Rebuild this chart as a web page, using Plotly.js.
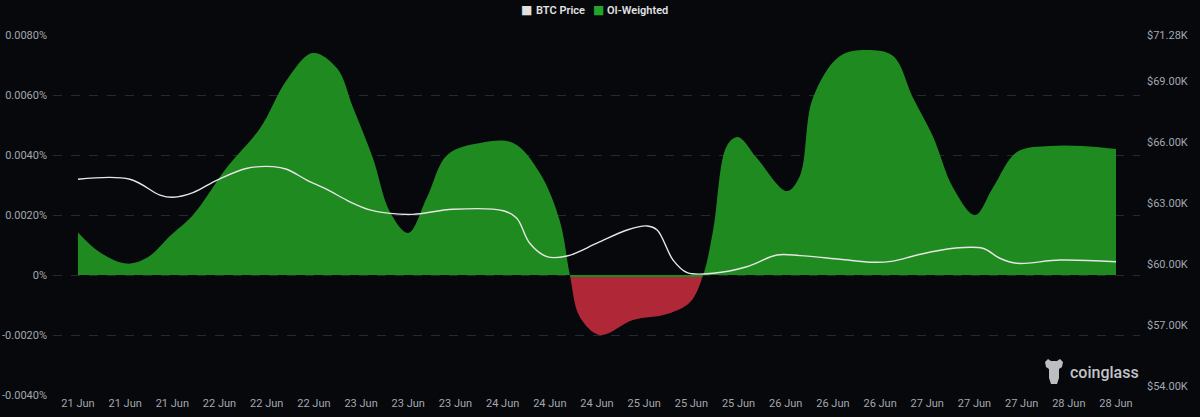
<!DOCTYPE html>
<html><head><meta charset="utf-8">
<script src="https://cdn.plot.ly/plotly-3.0.1.min.js"></script>
<style>html,body{margin:0;padding:0;background:#07080c;}#chart{width:1200px;height:417px;}</style>
</head><body><div id="chart"></div>
<script>
const fundingTimes = [
 '2024-06-21 00:00','2024-06-21 03:42','2024-06-21 08:18','2024-06-21 11:54','2024-06-21 15:36','2024-06-21 19:30',
 '2024-06-22 01:18','2024-06-22 06:54','2024-06-22 11:24','2024-06-22 15:48','2024-06-22 19:54','2024-06-22 22:36',
 '2024-06-23 02:00','2024-06-23 04:54','2024-06-23 08:00','2024-06-23 11:12','2024-06-23 14:36','2024-06-23 20:12',
 '2024-06-24 01:48','2024-06-24 06:18','2024-06-24 09:42','2024-06-24 11:24','2024-06-24 13:06','2024-06-24 16:30',
 '2024-06-24 22:06','2024-06-25 03:54','2024-06-25 07:48','2024-06-25 10:00','2024-06-25 11:42','2024-06-25 14:00',
 '2024-06-25 15:54','2024-06-25 19:06','2024-06-26 00:12','2024-06-26 02:24','2024-06-26 04:36','2024-06-26 09:12',
 '2024-06-26 13:48','2024-06-26 18:12','2024-06-26 21:36','2024-06-27 01:00','2024-06-27 04:24','2024-06-27 08:06',
 '2024-06-27 11:06','2024-06-27 15:12','2024-06-27 20:48','2024-06-28 02:24','2024-06-28 08:00'
];
const fundingValues = [
 0.00142,0.00076,0.00038,0.0006,0.0013,0.0020,
 0.0036,0.0049,0.0065,0.0074,0.0069,0.0056,
 0.0039,0.0021,0.0014,0.0026,0.0040,0.0044,
 0.0044,0.0034,0.0018,0.0,-0.0014,-0.0020,
 -0.0015,-0.0013,-0.0009,0.0,0.0015,0.0043,
 0.0046,0.0039,0.0028,0.0033,0.0059,0.0073,
 0.0075,0.0073,0.0059,0.0046,0.0029,0.0020,
 0.0029,0.0041,0.0043,0.0043,0.0042
];
const btcTimes = [
 '2024-06-21 00:00','2024-06-21 08:48','2024-06-21 13:54','2024-06-21 16:06','2024-06-21 19:30','2024-06-21 23:36',
 '2024-06-22 04:42','2024-06-22 09:06','2024-06-22 11:24','2024-06-22 14:48','2024-06-22 18:12','2024-06-22 22:06',
 '2024-06-23 01:30','2024-06-23 04:54','2024-06-23 08:48','2024-06-23 15:36','2024-06-24 00:06','2024-06-24 02:24',
 '2024-06-24 04:36','2024-06-24 07:30','2024-06-24 10:54','2024-06-24 16:00','2024-06-24 21:06','2024-06-25 00:30',
 '2024-06-25 02:12','2024-06-25 04:54','2024-06-25 07:18','2024-06-25 11:42','2024-06-25 17:24','2024-06-25 22:30',
 '2024-06-26 02:24','2024-06-26 09:12','2024-06-26 14:48','2024-06-26 18:12','2024-06-26 22:18','2024-06-27 04:24',
 '2024-06-27 09:24','2024-06-27 12:18','2024-06-27 15:12','2024-06-27 22:30','2024-06-28 08:00'
];
const btcPrices = [
 64.18,64.18,63.40,63.29,63.52,64.14,
 64.72,64.80,64.67,64.14,63.68,63.07,
 62.67,62.50,62.45,62.70,62.63,62.26,
 61.03,60.37,60.40,61.03,61.68,61.88,
 61.68,60.20,59.58,59.55,59.87,60.45,
 60.42,60.24,60.09,60.15,60.45,60.78,
 60.78,60.29,60.04,60.20,60.12
];
const leftTickValues = [-0.004,-0.002,0,0.002,0.004,0.006,0.008];
const leftTickLabels = ['-0.0040%','-0.0020%','0%','0.0020%','0.0040%','0.0060%','0.0080%'];
const rightTickValues = [54,57,60,63,66,69,71.28];
const rightTickLabels = ['$54.00K','$57.00K','$60.00K','$63.00K','$66.00K','$69.00K','$71.28K'];
const seriesNames = ['BTC Price','OI-Weighted'];

const GREEN = '#1e8a1f', RED = '#b02837', LINE = '#e6e6e6';
const tickFont = {family: 'Roboto, sans-serif', size: 11, color: '#a4a7ae'};

const traces = [
 {x: fundingTimes, y: fundingValues, type: 'scatter', mode: 'lines', fill: 'tozeroy',
  line: {width: 0, shape: 'spline', smoothing: 1}, showlegend: false, hoverinfo: 'skip',
  fillgradient: {type: 'vertical', start: -0.00006, stop: -0.00005,
   colorscale: [[0, RED],[0.5, RED],[0.5, GREEN],[1, GREEN]]}},
 {x: btcTimes, y: btcPrices, yaxis: 'y2', type: 'scatter', mode: 'lines',
  line: {color: LINE, width: 1.4, shape: 'spline', smoothing: 1}, showlegend: false}
];

const legendY = (395 - 10) / 360;
const layout = {
 width: 1200, height: 417,
 margin: {l: 53, r: 60, t: 35, b: 22, autoexpand: false},
 paper_bgcolor: '#07080c', plot_bgcolor: '#07080c',
 font: {family: 'Roboto, sans-serif', color: '#a4a7ae'},
 showlegend: false,
 xaxis: {type: 'date', range: ['2024-06-20 19:46', '2024-06-28 12:04'],
  tick0: '2024-06-21 00:00', dtick: 8 * 3600 * 1000, tickformat: '%d %b',
  showgrid: false, zeroline: false, showline: false, ticks: '', tickfont: tickFont},
 yaxis: {range: [-0.004, 0.008], tickvals: leftTickValues, ticktext: leftTickLabels,
  showgrid: true, gridcolor: '#262932', griddash: 'dash', gridwidth: 1,
  zeroline: false, showline: false, ticks: '', tickfont: tickFont, ticklabelstandoff: 5},
 yaxis2: {overlaying: 'y', side: 'right', range: [53.557, 71.28],
  tickvals: rightTickValues, ticktext: rightTickLabels,
  showgrid: false, zeroline: false, showline: false, ticks: '', tickfont: tickFont, ticklabelstandoff: 6},
 annotations: [
  {xref: 'paper', yref: 'paper', x: (519 - 53) / 1087, y: legendY, xanchor: 'left', yanchor: 'middle',
   showarrow: false, text: '<span style="color:#e0e0e0">■</span>',
   font: {family: 'DejaVu Sans, sans-serif', size: 12}},
  {xref: 'paper', yref: 'paper', x: (534 - 53) / 1087, y: legendY, xanchor: 'left', yanchor: 'middle',
   showarrow: false, text: seriesNames[0],
   font: {family: 'Roboto, sans-serif', size: 11, color: '#e2e2e2', weight: 600}},
  {xref: 'paper', yref: 'paper', x: (591 - 53) / 1087, y: legendY, xanchor: 'left', yanchor: 'middle',
   showarrow: false, text: '<span style="color:#23a52b">■</span>',
   font: {family: 'DejaVu Sans, sans-serif', size: 12}},
  {xref: 'paper', yref: 'paper', x: (605 - 53) / 1087, y: legendY, xanchor: 'left', yanchor: 'middle',
   showarrow: false, text: seriesNames[1],
   font: {family: 'Roboto, sans-serif', size: 11, color: '#e2e2e2', weight: 600}},
  {xref: 'paper', yref: 'paper', x: (1068 - 53) / 1087, y: (395 - 372) / 360, xanchor: 'left', yanchor: 'middle',
   text: 'coinglass', showarrow: false,
   font: {family: 'Roboto, sans-serif', size: 16, color: '#c2c4c8', weight: 500}}
 ],
 shapes: [
  {type: 'path', xref: 'paper', yref: 'paper', xsizemode: 'pixel', ysizemode: 'pixel',
   xanchor: (1054 - 53) / 1087, yanchor: (395 - 372) / 360,
   path: 'M -9,10 L -6,13 L -3,11 L 3,11 L 6,13 L 9,10 L 8,5 L 5,3 L 5,-6 L 3,-12 L -3,-12 L -5,-6 L -5,3 L -8,5 Z',
   fillcolor: '#bdbec2', line: {width: 0}}
 ]
};

Plotly.newPlot('chart', traces, layout, {displayModeBar: false, staticPlot: true});
</script>
</body></html>
